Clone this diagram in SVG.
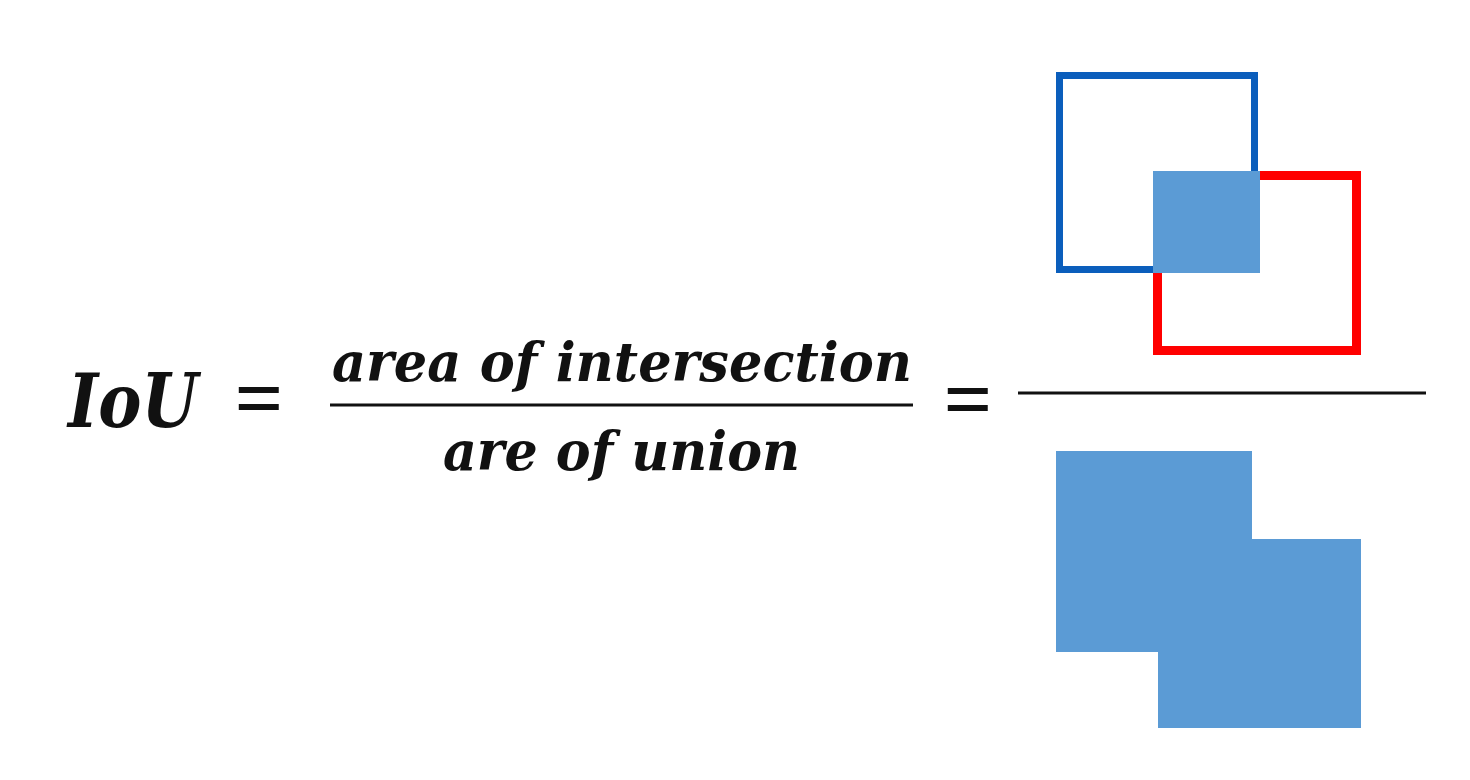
<svg xmlns="http://www.w3.org/2000/svg" width="1470" height="780" viewBox="0 0 1470 780">
<style>
.math{font-family:"DejaVu Serif","Liberation Serif",serif;font-weight:bold;font-style:italic;fill:#111;}
.eq{font-family:"Liberation Serif",serif;font-weight:bold;fill:#111;font-size:86px;text-anchor:middle;}
.bar{stroke:#111;stroke-width:3;}
.fillb{fill:#5B9BD5;}
</style>
<rect width="1470" height="780" fill="#ffffff"/>
<g id="formula">
<text class="math" x="68" y="427" font-size="74" textLength="130" lengthAdjust="spacingAndGlyphs">IoU</text>
<text class="eq" x="259" y="427">=</text>
<text class="math" x="332" y="381" font-size="54" textLength="580" lengthAdjust="spacingAndGlyphs">area of intersection</text>
<line class="bar" x1="330" y1="405" x2="913" y2="405"/>
<text class="math" x="443" y="470" font-size="54" textLength="357" lengthAdjust="spacingAndGlyphs">are of union</text>
<text class="eq" x="968" y="428">=</text>
<line class="bar" x1="1018" y1="393" x2="1426" y2="393"/>
</g>
<g id="intersection">
<rect x="1059.5" y="75.5" width="195" height="194" fill="none" stroke="#0B5EBC" stroke-width="7"/>
<rect x="1157.5" y="175.5" width="199" height="175" fill="none" stroke="#FF0000" stroke-width="9"/>
<rect class="fillb" x="1153" y="171" width="107" height="102"/>
</g>
<g id="union">
<path class="fillb" d="M1056,451 H1252 V539 H1361 V728 H1158 V652 H1056 Z"/>
</g>
</svg>
